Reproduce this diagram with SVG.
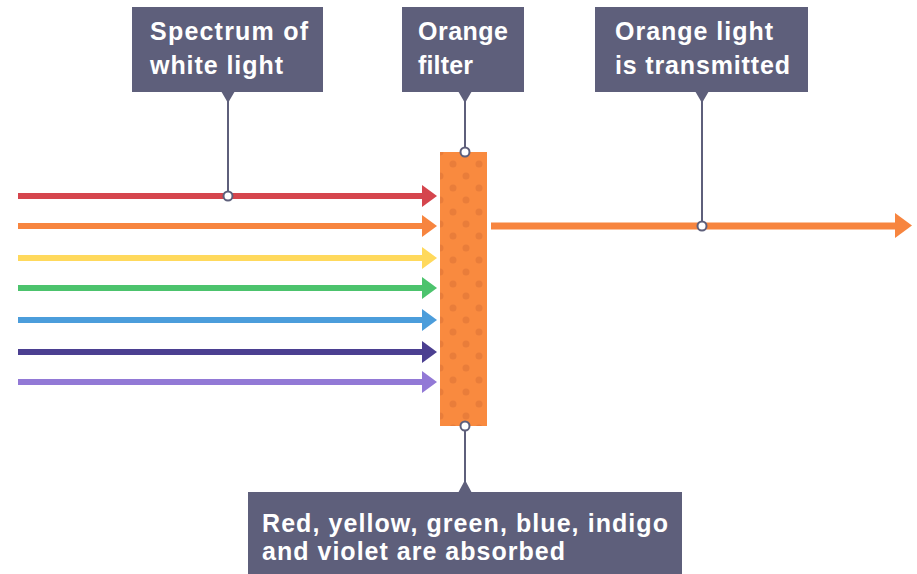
<svg xmlns="http://www.w3.org/2000/svg" xmlns:xlink="http://www.w3.org/1999/xlink" width="917" height="574" viewBox="0 0 917 574">
<style>
.box{fill:#5e5f7b}
.lbl{font-family:"Liberation Sans",Arial,sans-serif;font-weight:bold;font-size:25px;fill:#ffffff}
.lead{stroke:#5e5f7b;stroke-width:2;fill:none}
.dot{fill:#ffffff;stroke:#5e5f7b;stroke-width:2}
.ray{stroke-width:6;fill:none}
</style>
<defs>
<path id="head" d="M-15,-11 L0,0 L-15,11 Z"/>
<pattern id="dots" patternUnits="userSpaceOnUse" x="440" y="152" width="26" height="24">
<rect width="26" height="24" fill="#f98a3f"/>
<circle cx="0" cy="0" r="3.5" fill="#e97d3a"/>
<circle cx="26" cy="0" r="3.5" fill="#e97d3a"/>
<circle cx="0" cy="24" r="3.5" fill="#e97d3a"/>
<circle cx="26" cy="24" r="3.5" fill="#e97d3a"/>
<circle cx="13" cy="12" r="3.5" fill="#e97d3a"/>
</pattern>
</defs>

<g id="connectors">
<line class="ray" x1="18" y1="196" x2="424" y2="196" stroke="#d5454d"/>
<use xlink:href="#head" x="437" y="196" fill="#d5454d"/>
<line class="ray" x1="18" y1="226" x2="424" y2="226" stroke="#f7853f"/>
<use xlink:href="#head" x="437" y="226" fill="#f7853f"/>
<line class="ray" x1="18" y1="258" x2="424" y2="258" stroke="#ffd95c"/>
<use xlink:href="#head" x="437" y="258" fill="#ffd95c"/>
<line class="ray" x1="18" y1="288" x2="424" y2="288" stroke="#4cc36d"/>
<use xlink:href="#head" x="437" y="288" fill="#4cc36d"/>
<line class="ray" x1="18" y1="320" x2="424" y2="320" stroke="#4b9ddb"/>
<use xlink:href="#head" x="437" y="320" fill="#4b9ddb"/>
<line class="ray" x1="18" y1="352" x2="424" y2="352" stroke="#4b3f91"/>
<use xlink:href="#head" x="437" y="352" fill="#4b3f91"/>
<line class="ray" x1="18" y1="382" x2="424" y2="382" stroke="#9279d6"/>
<use xlink:href="#head" x="437" y="382" fill="#9279d6"/>
<line x1="491" y1="226" x2="897" y2="226" stroke="#f7853f" stroke-width="7"/>
<path d="M895,213 L912,225.5 L895,238 Z" fill="#f7853f"/>

<line class="lead" x1="228" y1="100" x2="228" y2="195"/>
<line class="lead" x1="465" y1="100" x2="465" y2="152"/>
<line class="lead" x1="702" y1="100" x2="702" y2="226"/>
<line class="lead" x1="465" y1="426" x2="465" y2="484"/>
</g>

<g id="filter">
<rect x="440" y="152" width="47" height="274" fill="url(#dots)"/>
</g>

<g id="dots-markers">
<circle class="dot" cx="228" cy="196" r="4.5"/>
<circle class="dot" cx="465" cy="152" r="4.5"/>
<circle class="dot" cx="702" cy="226" r="4.5"/>
<circle class="dot" cx="465" cy="426" r="4.5"/>
</g>

<g id="spectrum-label">
<rect class="box" x="132" y="7" width="191" height="85"/>
<path class="box" d="M221,91 L235,91 L228,103 Z"/>
<text class="lbl" x="150" y="40" textLength="158" lengthAdjust="spacing">Spectrum of</text>
<text class="lbl" x="150" y="74" textLength="133" lengthAdjust="spacing">white light</text>
</g>

<g id="filter-label">
<rect class="box" x="402" y="7" width="122" height="85"/>
<path class="box" d="M458,91 L472,91 L465,103 Z"/>
<text class="lbl" x="418" y="40" textLength="90" lengthAdjust="spacing">Orange</text>
<text class="lbl" x="418" y="74" textLength="55" lengthAdjust="spacing">filter</text>
</g>

<g id="transmitted-label">
<rect class="box" x="595" y="7" width="213" height="85"/>
<path class="box" d="M695,91 L709,91 L702,103 Z"/>
<text class="lbl" x="615" y="40" textLength="158" lengthAdjust="spacing">Orange light</text>
<text class="lbl" x="615" y="74" textLength="175" lengthAdjust="spacing">is transmitted</text>
</g>

<g id="absorbed-label">
<rect class="box" x="248" y="492" width="434" height="82"/>
<path class="box" d="M458,493 L472,493 L465,480 Z"/>
<text class="lbl" x="262" y="532" textLength="406" lengthAdjust="spacing">Red, yellow, green, blue, indigo</text>
<text class="lbl" x="262" y="560" textLength="303" lengthAdjust="spacing">and violet are absorbed</text>
</g>
</svg>
